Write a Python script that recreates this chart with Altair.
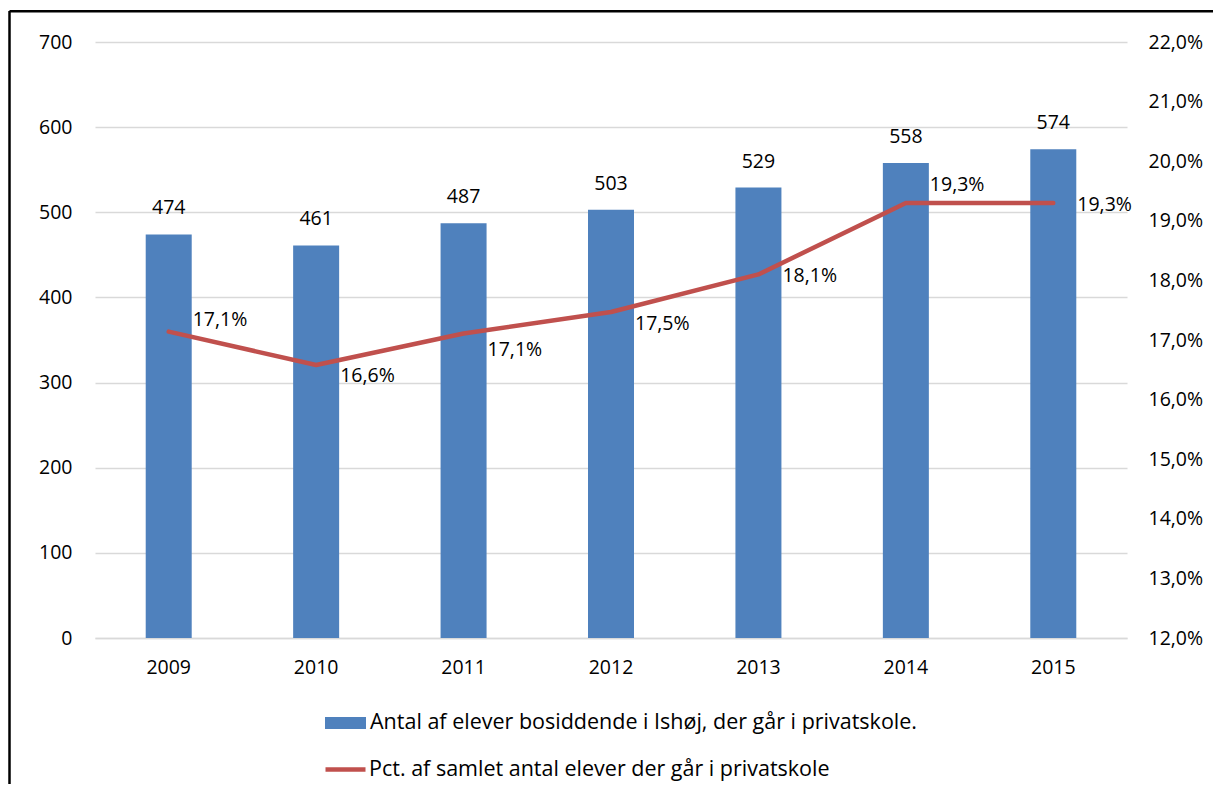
import altair as alt
import pandas as pd

years = ["2009", "2010", "2011", "2012", "2013", "2014", "2015"]
students = [474, 461, 487, 503, 529, 558, 574]
pct = [0.1714, 0.1658, 0.1711, 0.1747, 0.1810, 0.1930, 0.1930]
pct_label_dy = [-12, 11, 17, 12, 2, -18, 2]

bar_name = "Antal af elever bosiddende i Ishøj, der går i privatskole."
line_name = "Pct. af samlet antal elever der går i privatskole"

FONT = "Open Sans"
FS = 19.5
LFS = 21.5

df = pd.DataFrame({
    "year": years, "students": students, "pct": pct,
    "s_bar": [bar_name] * len(years), "s_line": [line_name] * len(years),
})
base = alt.Chart(df)

label_style = dict(labelFont=FONT, labelFontSize=FS, labelColor="black")

x_enc = alt.X(
    "year:N",
    sort=years,
    scale=alt.Scale(paddingInner=0, paddingOuter=0),
    axis=alt.Axis(
        title=None, labelAngle=0, ticks=False, domain=True,
        domainColor="#D9D9D9", domainWidth=1.3, labelPadding=20, **label_style,
    ),
)
x_plain = alt.X("year:N", sort=years)

y_left = alt.Y(
    "students:Q",
    scale=alt.Scale(domain=[0, 700], nice=False, zero=True),
    axis=alt.Axis(
        title=None, orient="left", values=list(range(0, 701, 100)),
        grid=True, gridColor="#D9D9D9", gridWidth=1.3, ticks=False,
        domain=False, labelPadding=23, **label_style,
    ),
)

bars = base.mark_bar(width=46).encode(
    x=x_enc,
    y=y_left,
    fill=alt.Fill(
        "s_bar:N",
        scale=alt.Scale(range=["#4F81BD"]),
        legend=alt.Legend(
            title=None, orient="none", legendX=230, legendY=660.5,
            symbolType="M-1,-0.29H1V0.29H-1Z", symbolSize=1681,
            symbolStrokeWidth=0, symbolOpacity=1, padding=0,
            labelFont=FONT, labelFontSize=LFS, labelColor="black",
            labelOffset=4, labelLimit=1000,
        ),
    ),
)

bar_text = base.mark_text(
    baseline="middle", align="center", dy=-26, font=FONT, fontSize=FS, color="black"
).encode(
    x=x_plain,
    y=alt.Y("students:Q"),
    text=alt.Text("students:Q", format="d"),
)

left_layer = alt.layer(bars, bar_text)

y_right = alt.Y(
    "pct:Q",
    scale=alt.Scale(domain=[0.12, 0.22], nice=False, zero=False),
    axis=alt.Axis(
        title=None, orient="right",
        values=[0.12, 0.13, 0.14, 0.15, 0.16, 0.17, 0.18, 0.19, 0.20, 0.21, 0.22],
        grid=False, ticks=False, domain=False, labelPadding=21,
        labelExpr="replace(format(datum.value, '.1%'), '.', ',')", **label_style,
    ),
)

line = base.mark_line(strokeWidth=4.5, strokeCap="round", strokeJoin="round").encode(
    x=x_plain,
    y=y_right,
    stroke=alt.Stroke(
        "s_line:N",
        scale=alt.Scale(range=["#C0504D"]),
        legend=alt.Legend(
            title=None, orient="none", legendX=228, legendY=705,
            symbolType="stroke", symbolSize=1600, symbolStrokeWidth=4.5,
            padding=0, labelFont=FONT, labelFontSize=LFS, labelColor="black",
            labelOffset=1, labelLimit=1000,
        ),
    ),
)

line_texts = []
for yr, d in zip(years, pct_label_dy):
    line_texts.append(
        base.transform_filter(alt.datum.year == yr)
        .transform_calculate(lbl="replace(format(datum.pct, '.1%'), '.', ',')")
        .mark_text(align="left", baseline="middle", dx=24, dy=d,
                   font=FONT, fontSize=FS, color="black")
        .encode(x=x_plain, y=alt.Y("pct:Q"), text="lbl:N")
    )

right_layer = alt.layer(line, *line_texts)

frame_df = pd.DataFrame({"a": [0]})
frame_left = alt.Chart(frame_df).mark_rule(color="black", strokeWidth=2.5).encode(
    x=alt.value(-85.5), y=alt.value(-31), y2=alt.value(770)
)
frame_top = alt.Chart(frame_df).mark_rule(color="black", strokeWidth=2.5).encode(
    x=alt.value(-85.5), x2=alt.value(1125), y=alt.value(-30.7)
)

chart = (
    alt.layer(left_layer, right_layer, frame_left, frame_top)
    .resolve_scale(y="independent")
    .properties(
        width=1032, height=596,
        autosize=alt.AutoSizeParams(type="none"),
        padding={"left": 87, "top": 34, "right": 86, "bottom": 146},
        background="white",
    )
    .configure_view(stroke=None)
)

chart.save("out.html", embed_options={"renderer": "svg", "actions": False})
